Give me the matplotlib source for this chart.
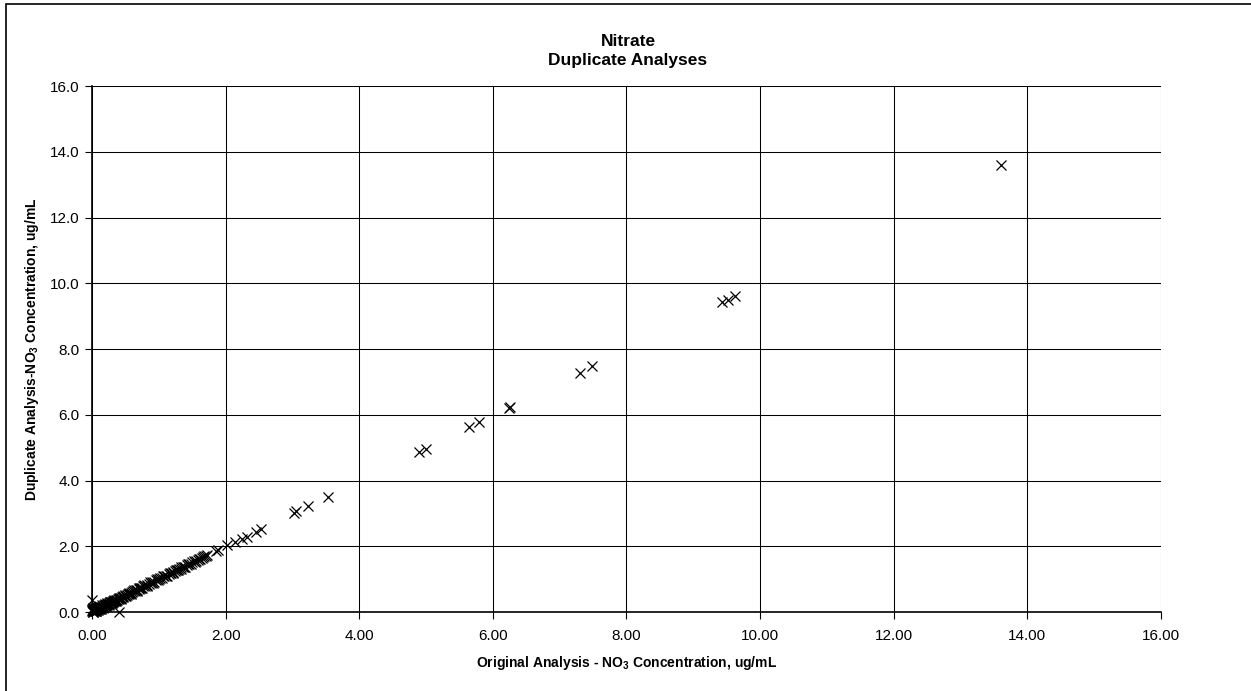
import matplotlib
matplotlib.use('Agg')
import matplotlib.pyplot as plt
from matplotlib.patches import Rectangle

plt.rcParams['font.family'] = ['Liberation Sans', 'DejaVu Sans']
plt.rcParams['mathtext.fontset'] = 'custom'
plt.rcParams['mathtext.rm'] = 'Liberation Sans'
plt.rcParams['mathtext.bf'] = 'Liberation Sans:bold'

# duplicate nitrate analyses, ug/mL
orig_high = [13.60, 9.43, 9.52, 9.63, 7.31, 7.49, 6.24, 6.25, 5.65, 5.80, 4.89, 5.00,
             3.53, 3.23, 3.03, 3.05, 2.53, 2.46, 2.32, 2.24, 2.14, 2.02, 1.89, 1.86,
             1.72, 1.70, 0.00, 0.40]
dup_high = [13.60, 9.42, 9.50, 9.62, 7.28, 7.47, 6.22, 6.24, 5.63, 5.77, 4.86, 4.97,
            3.50, 3.24, 3.02, 3.06, 2.52, 2.43, 2.29, 2.22, 2.14, 2.03, 1.88, 1.86,
            1.73, 1.70, 0.38, 0.00]

orig_low = [0.00, 0.00, 0.01, 0.01, 0.02, 0.02, 0.03, 0.03, 0.04, 0.04, 0.05, 0.05,
            0.06, 0.07, 0.07, 0.08, 0.08, 0.09, 0.10, 0.10, 0.11, 0.12, 0.12, 0.13,
            0.14, 0.15, 0.16, 0.17, 0.18, 0.19, 0.20, 0.21, 0.22, 0.23, 0.24, 0.25,
            0.26, 0.27, 0.28, 0.29, 0.30, 0.31, 0.32, 0.33, 0.35, 0.36, 0.38, 0.39,
            0.41, 0.42, 0.44, 0.45, 0.47, 0.49, 0.50, 0.52, 0.54, 0.56, 0.58, 0.60,
            0.62, 0.64, 0.66, 0.68, 0.70, 0.72, 0.75, 0.77, 0.80, 0.82, 0.85, 0.88,
            0.90, 0.93, 0.96, 0.99, 1.02, 1.05, 1.08, 1.11, 1.15, 1.19, 1.22, 1.25,
            1.27, 1.30, 1.33, 1.36, 1.39, 1.42, 1.46, 1.50, 1.54, 1.58, 1.62, 1.66]
dup_low = [0.02, 0.06, 0.00, 0.04, 0.01, 0.07, 0.03, 0.09, 0.02, 0.06, 0.05, 0.10,
           0.04, 0.08, 0.12, 0.06, 0.11, 0.09, 0.08, 0.14, 0.12, 0.10, 0.16, 0.13,
           0.15, 0.14, 0.18, 0.16, 0.20, 0.19, 0.21, 0.22, 0.21, 0.25, 0.24, 0.26,
           0.25, 0.29, 0.27, 0.30, 0.31, 0.30, 0.33, 0.34, 0.34, 0.38, 0.37, 0.41,
           0.40, 0.44, 0.43, 0.46, 0.47, 0.50, 0.51, 0.52, 0.55, 0.55, 0.59, 0.60,
           0.63, 0.63, 0.67, 0.67, 0.71, 0.72, 0.74, 0.79, 0.80, 0.81, 0.86, 0.87,
           0.91, 0.92, 0.97, 0.98, 1.03, 1.04, 1.09, 1.10, 1.16, 1.18, 1.23, 1.24,
           1.28, 1.31, 1.32, 1.37, 1.38, 1.43, 1.45, 1.51, 1.53, 1.59, 1.61, 1.67]

# second batch of low-level samples
orig_low2 = [0.01, 0.02, 0.04, 0.05, 0.06, 0.08, 0.09, 0.11, 0.13, 0.15, 0.17, 0.19,
             0.21, 0.23, 0.25, 0.27, 0.30, 0.33, 0.36, 0.40, 0.43, 0.46, 0.51, 0.55,
             0.59, 0.63, 0.67, 0.71, 0.74, 0.78, 0.83, 0.87, 0.92, 0.97, 1.01, 1.06,
             1.12, 1.17, 1.21, 1.26, 1.29, 1.34, 1.38, 1.44, 1.48, 1.52, 1.56, 1.60,
             1.64, 1.68]
dup_low2 = [0.08, 0.12, 0.10, 0.13, 0.02, 0.15, 0.05, 0.17, 0.09, 0.20, 0.13, 0.24,
            0.18, 0.27, 0.22, 0.31, 0.27, 0.36, 0.33, 0.43, 0.40, 0.49, 0.48, 0.58,
            0.56, 0.66, 0.64, 0.74, 0.72, 0.81, 0.80, 0.90, 0.89, 1.00, 0.99, 1.09,
            1.10, 1.20, 1.19, 1.29, 1.27, 1.37, 1.36, 1.46, 1.47, 1.54, 1.55, 1.62,
            1.63, 1.70]

xticks = [0, 2, 4, 6, 8, 10, 12, 14, 16]
yticks = [0, 2, 4, 6, 8, 10, 12, 14, 16]

x_all = orig_low + orig_low2 + orig_high
y_all = dup_low + dup_low2 + dup_high

fig = plt.figure(figsize=(12.51, 6.91), dpi=100)
ax = fig.add_axes([0.0735, 0.1143, 0.8545, 0.7612])

ax.plot(x_all, y_all, linestyle='none', marker='x',
        markersize=6.5, markeredgewidth=0.9, color='black', clip_on=False, zorder=3)

ax.set_xlim(0, 16)
ax.set_ylim(0, 16)
ax.set_xticks(xticks)
ax.set_yticks(yticks)
ax.set_xticklabels(['{:.2f}'.format(v) for v in xticks])
ax.set_yticklabels(['{:.1f}'.format(v) for v in yticks])
ax.tick_params(direction='out', length=5, width=0.8, labelsize=11, color='black')
ax.tick_params(axis='x', pad=7)
ax.tick_params(axis='y', pad=4)

ax.grid(True, color='black', linewidth=0.75)
ax.set_axisbelow(True)
for side in ['top', 'right']:
    ax.spines[side].set_visible(False)
for side in ['left', 'bottom']:
    ax.spines[side].set_linewidth(1.2)

ax.set_xlabel(r'Original Analysis - NO$_{\mathbf{3}}$ Concentration, ug/mL',
              fontsize=10, fontweight='bold', labelpad=8)
ax.set_ylabel(r'Duplicate Analysis-NO$_{\mathbf{3}}$ Concentration, ug/mL',
              fontsize=10, fontweight='bold', labelpad=6)

fig.text(0.502, 1 - 51 / 691, 'Nitrate\nDuplicate Analyses', ha='center', va='center',
         fontsize=12.5, fontweight='bold', linespacing=1.25)

# chart border (runs off the right and bottom of the page)
fig.patches.append(Rectangle((6 / 1251, -0.05), 1.2, 1.05 - 4 / 691, transform=fig.transFigure,
                             fill=False, edgecolor='black', linewidth=1.2))

fig.savefig('out.png', dpi=100)
